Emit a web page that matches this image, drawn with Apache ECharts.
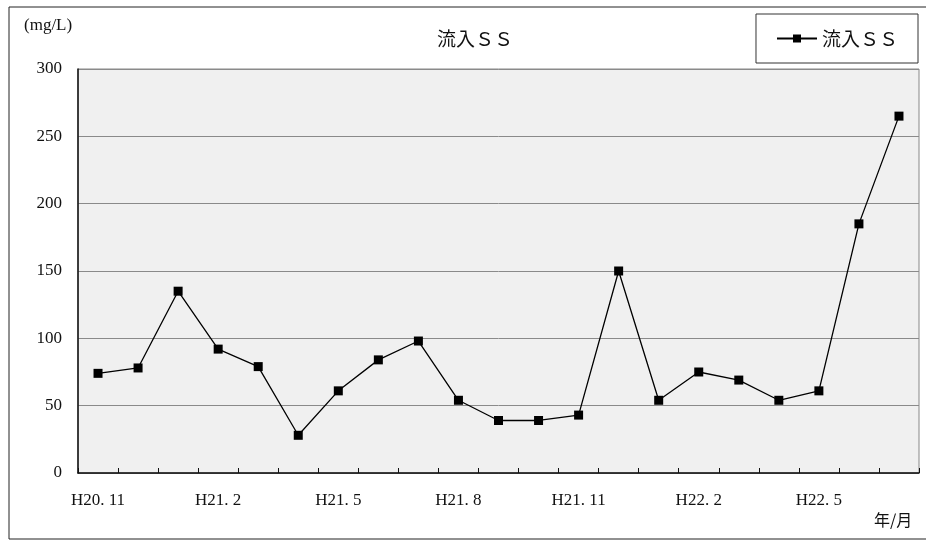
<!DOCTYPE html>
<html>
<head>
<meta charset="utf-8">
<script src="https://cdn.jsdelivr.net/npm/echarts@6/dist/echarts.min.js"></script>
<style>
  html, body { margin: 0; padding: 0; background: #fff; }
  #main { width: 926px; height: 541px; }
</style>
</head>
<body>
<div id="main"></div>
<script>
// months H20.11 .. H22.7
var months = ['H20. 11', 'H20. 12', 'H21. 1', 'H21. 2', 'H21. 3', 'H21. 4', 'H21. 5',
  'H21. 6', 'H21. 7', 'H21. 8', 'H21. 9', 'H21. 10', 'H21. 11', 'H21. 12',
  'H22. 1', 'H22. 2', 'H22. 3', 'H22. 4', 'H22. 5', 'H22. 6', 'H22. 7'];
var ssValues = [74, 78, 135, 92, 79, 28, 61, 84, 98, 54, 39, 39, 43, 150, 54, 75, 69, 54, 61, 185, 265];
var seriesName = '流入ＳＳ';

var latin = "'Liberation Serif', 'Noto Sans CJK JP', serif";
var cjk = "'Noto Sans CJK JP', 'Liberation Serif', serif";

var myChart = echarts.init(document.getElementById('main'));
var option = {
  animation: false,
  backgroundColor: '#fff',
  title: {
    text: seriesName,
    left: 470,
    top: 24,
    textAlign: 'center',
    textStyle: { fontFamily: cjk, fontSize: 19, fontWeight: 'normal', color: '#111' }
  },
  legend: {
    right: 8,
    top: 14,
    padding: [15, 20, 15, 20],
    borderColor: '#333',
    borderWidth: 1,
    itemWidth: 40,
    itemHeight: 10,
    itemGap: 6,
    textStyle: { fontFamily: cjk, fontSize: 19, color: '#111' },
    data: [seriesName]
  },
  graphic: [
    {
      type: 'rect',
      shape: { x: 9, y: 7, width: 930, height: 532 },
      style: { fill: 'none', stroke: '#222', lineWidth: 1 },
      silent: true
    },
    {
      type: 'text',
      left: 24, top: 17,
      style: { text: '(mg/L)', font: '17px ' + latin, fill: '#111' }
    },
    {
      type: 'text',
      left: 874, top: 512,
      style: { text: '年/月', font: '16px ' + cjk, fill: '#111' }
    }
  ],
  grid: {
    left: 78, right: 7, top: 69, bottom: 68,
    show: true,
    backgroundColor: '#f0f0f0',
    borderColor: '#888',
    borderWidth: 1
  },
  xAxis: {
    type: 'category',
    data: months,
    boundaryGap: true,
    axisLine: { lineStyle: { color: '#111', width: 1.5 } },
    axisTick: { show: true, inside: true, length: 5, interval: 0, lineStyle: { color: '#111' } },
    axisLabel: { interval: 2, margin: 19, fontFamily: latin, fontSize: 17, color: '#111' }
  },
  yAxis: {
    type: 'value',
    min: 0, max: 300, interval: 50,
    axisLine: { show: true, lineStyle: { color: '#111', width: 1.5 } },
    axisTick: { show: false },
    axisLabel: { margin: 16, fontFamily: latin, fontSize: 17, color: '#111' },
    splitLine: { lineStyle: { color: '#8a8a8a', width: 1 } }
  },
  series: [{
    name: seriesName,
    type: 'line',
    data: ssValues,
    symbol: 'rect',
    symbolSize: 9,
    itemStyle: { color: '#000' },
    lineStyle: { color: '#000', width: 1.3 }
  }]
};
myChart.setOption(option);
</script>
</body>
</html>
